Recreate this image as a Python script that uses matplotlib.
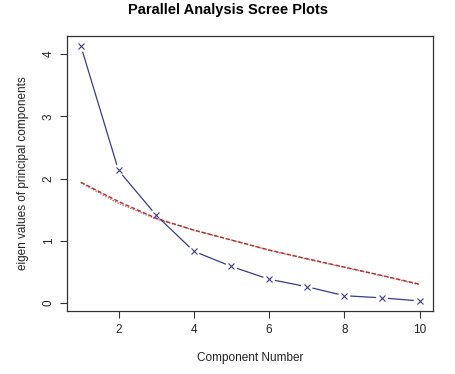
import numpy as np
import matplotlib
matplotlib.use("Agg")
import matplotlib.pyplot as plt

plt.rcParams["font.family"] = ["Liberation Sans", "DejaVu Sans"]

# ---- data ----
component = [1, 2, 3, 4, 5, 6, 7, 8, 9, 10]
eigen_actual = [4.13, 2.13, 1.41, 0.83, 0.585, 0.38, 0.26, 0.115, 0.08, 0.03]
eigen_simulated = [1.94, 1.63, 1.36, 1.17, 1.01, 0.85, 0.71, 0.575, 0.44, 0.30]
eigen_resampled = [1.93, 1.60, 1.35, 1.17, 1.01, 0.845, 0.705, 0.57, 0.435, 0.29]

BLUE = "#3b3b8e"
RED = "#b03030"

fig = plt.figure(figsize=(4.55, 3.74), dpi=100)
ax = fig.add_axes([0.148, 0.168, 0.804, 0.736])

x = np.asarray(component, dtype=float)
ax.set_xlim(0.64, 10.36)
ax.set_ylim(-0.134, 4.294)

# red lines: simulated (dashed) and resampled (dotted)
ax.plot(x, eigen_simulated, color=RED, lw=1.0, ls=(0, (3, 1.5)))
ax.plot(x, eigen_resampled, color=RED, lw=1.0, ls=(0, (1, 1)), alpha=0.7)

# blue type="b" line: segments with gaps around the markers (gap in pixels)
y = np.asarray(eigen_actual, dtype=float)
pts = ax.transData.transform(np.column_stack([x, y]))
gap = 6.5
inv = ax.transData.inverted()
for p0, p1 in zip(pts[:-1], pts[1:]):
    d = p1 - p0
    n = np.hypot(*d)
    if n <= 2 * gap:
        continue
    u = d / n
    seg = inv.transform(np.array([p0 + u * gap, p1 - u * gap]))
    ax.plot(seg[:, 0], seg[:, 1], color=BLUE, lw=0.9)
ax.plot(x, y, ls="none", marker="x", ms=4.5, mew=0.8, color=BLUE)

ax.set_xticks([2, 4, 6, 8, 10])
ax.set_yticks([0, 1, 2, 3, 4])
ax.tick_params(direction="out", length=5, width=0.8, color="#333333",
               labelsize=8.5, labelcolor="#222222", pad=4)
for lab in ax.get_yticklabels():
    lab.set_rotation(90)
    lab.set_va("center")
for s in ax.spines.values():
    s.set_linewidth(0.9)
    s.set_color("#333333")

ax.set_xlabel("Component Number", fontsize=8.5, color="#222222", labelpad=12)
ax.set_ylabel("eigen values of principal components", fontsize=8.5,
              color="#222222", labelpad=10)
fig.text(0.5, 0.993, "Parallel Analysis Scree Plots", ha="center", va="top",
         fontsize=10.5, fontweight="bold")

fig.savefig("out.png", dpi=100, facecolor="white")
